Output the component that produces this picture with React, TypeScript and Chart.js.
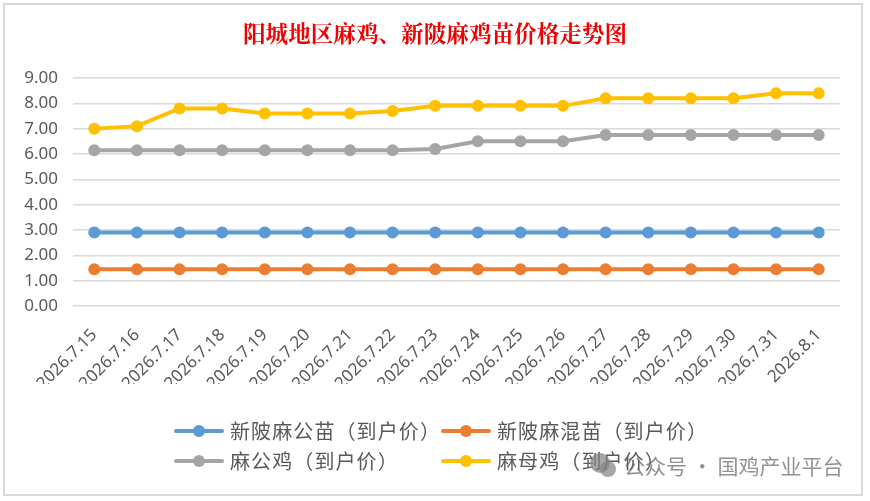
import React, { useEffect, useRef } from "react";
import { Chart, registerables } from "chart.js";

Chart.register(...registerables);

const TITLE = "阳城地区麻鸡、新陂麻鸡苗价格走势图";

const categories = [
  "2026.7.15", "2026.7.16", "2026.7.17", "2026.7.18", "2026.7.19", "2026.7.20",
  "2026.7.21", "2026.7.22", "2026.7.23", "2026.7.24", "2026.7.25", "2026.7.26",
  "2026.7.27", "2026.7.28", "2026.7.29", "2026.7.30", "2026.7.31", "2026.8.1",
];

const seriesNames = [
  "新陂麻公苗（到户价）",
  "新陂麻混苗（到户价）",
  "麻公鸡（到户价）",
  "麻母鸡（到户价）",
];

const maleChickPrice = [2.9, 2.9, 2.9, 2.9, 2.9, 2.9, 2.9, 2.9, 2.9, 2.9, 2.9, 2.9, 2.9, 2.9, 2.9, 2.9, 2.9, 2.9];
const mixedChickPrice = [1.45, 1.45, 1.45, 1.45, 1.45, 1.45, 1.45, 1.45, 1.45, 1.45, 1.45, 1.45, 1.45, 1.45, 1.45, 1.45, 1.45, 1.45];
const roosterPrice = [6.15, 6.15, 6.15, 6.15, 6.15, 6.15, 6.15, 6.15, 6.2, 6.5, 6.5, 6.5, 6.75, 6.75, 6.75, 6.75, 6.75, 6.75];
const henPrice = [7.0, 7.1, 7.8, 7.8, 7.6, 7.6, 7.6, 7.7, 7.9, 7.9, 7.9, 7.9, 8.2, 8.2, 8.2, 8.2, 8.4, 8.4];

const colors = ["#5B9BD5", "#ED7D31", "#A5A5A5", "#FFC000"];
const seriesValues = [maleChickPrice, mixedChickPrice, roosterPrice, henPrice];

const yTicks = { min: 0, max: 9, step: 1 };

const WATERMARK = "公众号 · 国鸡产业平台";

function LegendItem({ color, label }: { color: string; label: string }) {
  return (
    <div style={{ display: "flex", alignItems: "center", width: 267 }}>
      <svg width={50} height={16} style={{ marginRight: 6 }}>
        <line x1={2} y1={8} x2={48} y2={8} stroke={color} strokeWidth={4} strokeLinecap="round" />
        <circle cx={25} cy={8} r={6} fill={color} />
      </svg>
      <span>{label}</span>
    </div>
  );
}

export default function App() {
  const ref = useRef<HTMLCanvasElement | null>(null);

  useEffect(() => {
    if (!ref.current) return;
    const chart = new Chart(ref.current, {
      type: "line",
      data: {
        labels: categories,
        datasets: seriesValues.map((vals, i) => ({
          label: seriesNames[i],
          data: vals,
          borderColor: colors[i],
          backgroundColor: colors[i],
          borderWidth: 4,
          pointRadius: 6,
          pointHoverRadius: 6,
          pointBorderWidth: 0,
          tension: 0,
        })),
      },
      options: {
        responsive: false,
        animation: false,
        devicePixelRatio: 1,
        layout: { padding: { left: 10, right: 30, top: 78, bottom: 117 } },
        plugins: {
          legend: { display: false },
          tooltip: { enabled: false },
          title: { display: false },
        },
        scales: {
          x: {
            offset: true,
            grid: { display: false, drawTicks: false },
            border: { display: false },
            ticks: {
              color: "#595959",
              font: { family: "'Noto Sans'", size: 17 },
              maxRotation: 45,
              minRotation: 45,
              autoSkip: false,
              padding: 19,
            },
            afterFit: (scale: any) => {
              scale.height = 78;
            },
          },
          y: {
            min: yTicks.min,
            max: yTicks.max,
            grid: { color: "#D9D9D9", lineWidth: 1.5, drawTicks: false },
            border: { display: false },
            ticks: {
              stepSize: yTicks.step,
              color: "#595959",
              font: { family: "'Noto Sans'", size: 17 },
              padding: 15,
              callback: (v: any) => Number(v).toFixed(2),
            },
            afterFit: (scale: any) => {
              scale.width = 63;
            },
          },
        },
      },
    });
    return () => chart.destroy();
  }, []);

  return (
    <div style={{ position: "absolute", left: 0, top: 0, width: 870, height: 501, background: "#fff", overflow: "hidden" }}>
      <div
        style={{
          position: "absolute",
          left: 3,
          top: 3,
          width: 856,
          height: 489,
          border: "2px solid #D9D9D9",
          background: "#fff",
        }}
      />
      <canvas ref={ref} width={870} height={501} style={{ position: "absolute", left: 0, top: 0, width: 870, height: 501 }} />
      <div
        style={{
          position: "absolute",
          left: 0,
          top: 18,
          width: 870,
          textAlign: "center",
          fontFamily: "'Noto Serif CJK SC', 'Noto Sans CJK SC'",
          fontSize: 22.6,
          fontWeight: "bold",
          lineHeight: "28px",
          color: "#F00000",
        }}
      >
        {TITLE}
      </div>
      <div
        style={{
          position: "absolute",
          left: 174,
          top: 416,
          fontFamily: "'Noto Sans CJK SC'",
          fontSize: 20,
          letterSpacing: 1.1,
          color: "#595959",
          lineHeight: "30px",
        }}
      >
        <div style={{ display: "flex", height: 30 }}>
          <LegendItem color={colors[0]} label={seriesNames[0]} />
          <LegendItem color={colors[1]} label={seriesNames[1]} />
        </div>
        <div style={{ display: "flex", height: 30 }}>
          <LegendItem color={colors[2]} label={seriesNames[2]} />
          <LegendItem color={colors[3]} label={seriesNames[3]} />
        </div>
      </div>
      <div
        style={{
          position: "absolute",
          left: 588,
          top: 450,
          display: "flex",
          alignItems: "center",
          fontFamily: "'Noto Sans CJK SC'",
          fontSize: 21,
          color: "rgba(110,110,110,0.75)",
        }}
      >
        <svg width={30} height={28} style={{ marginRight: 6 }}>
          <circle cx={12} cy={12} r={10} fill="rgba(130,130,130,0.7)" />
          <circle cx={20} cy={18} r={8} fill="rgba(130,130,130,0.7)" />
        </svg>
        <span>{WATERMARK}</span>
      </div>
    </div>
  );
}
